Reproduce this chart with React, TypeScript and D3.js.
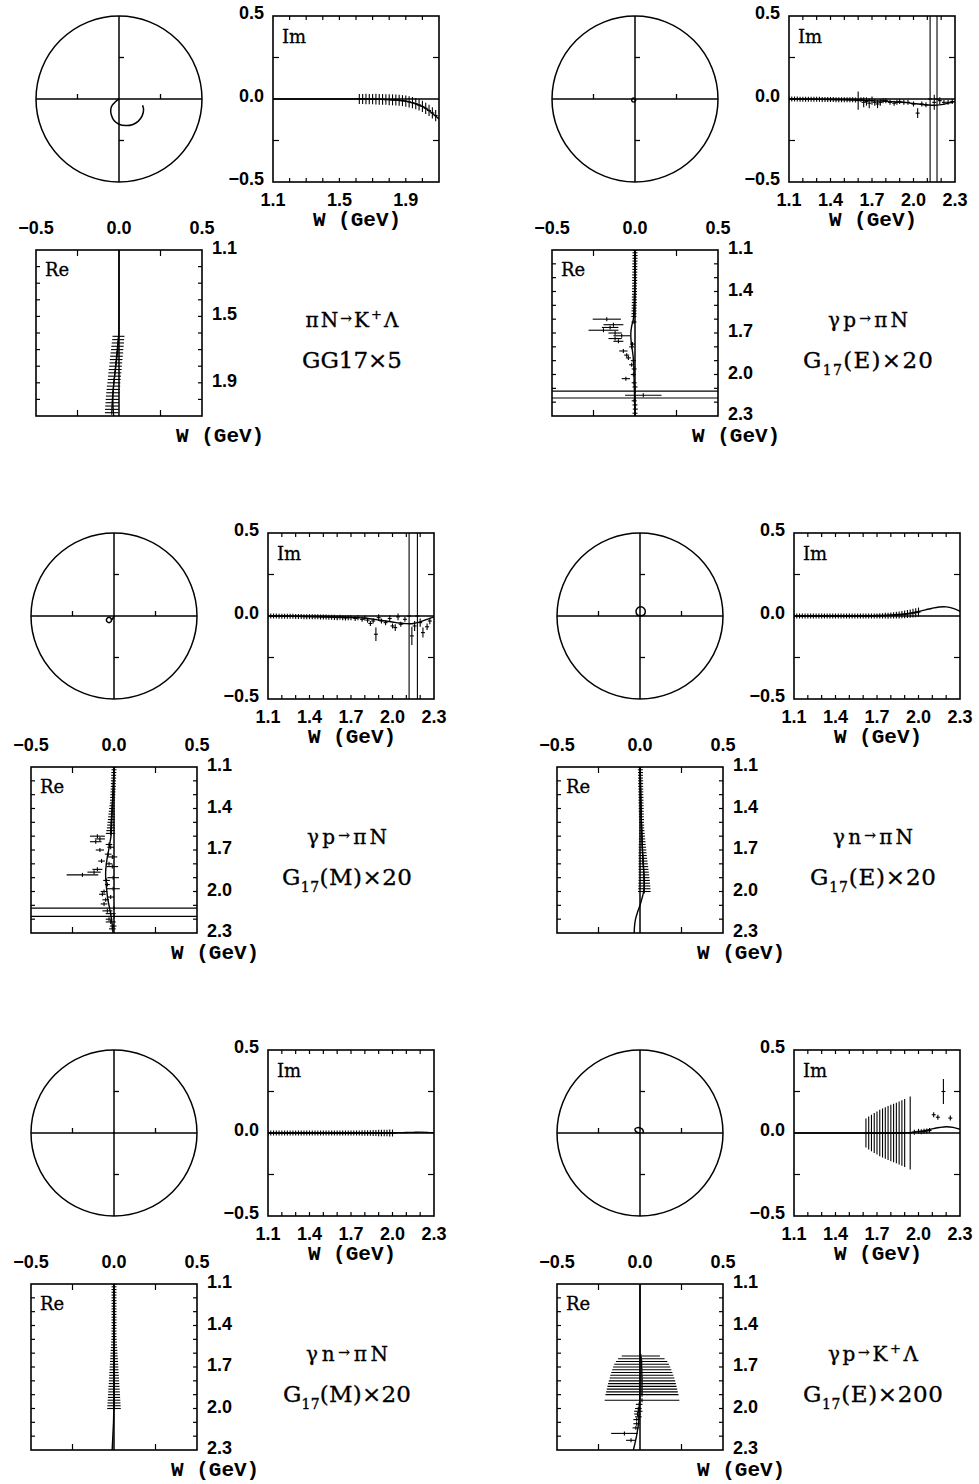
import React from "react";
import * as d3 from "d3";

// ---------- layout ----------
const S = 166;
const IM_DX = 237;
const RE_DY = 234;
const TITLE_DX = 316;
const panelLeft = [36, 552, 31, 557, 31, 557];
const panelTop = [16, 16, 533, 533, 1050, 1050];

const NUM_FONT = "'Liberation Sans', Arial, Helvetica, sans-serif";
const MONO_FONT = "'Liberation Mono', 'DejaVu Sans Mono', monospace";
const SERIF_FONT = "'DejaVu Serif', 'Liberation Serif', serif";

// ---------- ticks ----------
const ampTicks = [-0.5, 0.0, 0.5];
const ampMinorTicks = [-0.25, 0.25];
const wDomainShort = [1.1, 2.1];
const wDomainLong = [1.1, 2.3];
const wLabelsShort = [1.1, 1.5, 1.9];
const wLabelsLong = [1.1, 1.4, 1.7, 2.0, 2.3];
const wMinorShort = [1.2, 1.3, 1.4, 1.5, 1.6, 1.7, 1.8, 1.9, 2.0];
const wMinorLong = [1.2, 1.3, 1.4, 1.5, 1.6, 1.7, 1.8, 1.9, 2.0, 2.1, 2.2];

// ---------- curve energy grids ----------
const p1CurveW = [1.1, 1.2, 1.3, 1.4, 1.5, 1.6, 1.65, 1.7, 1.75, 1.8, 1.85, 1.9, 1.95, 2.0, 2.05, 2.1];
const curveW = [1.1, 1.2, 1.3, 1.4, 1.5, 1.6, 1.65, 1.7, 1.75, 1.8, 1.85, 1.9, 1.95, 2.0, 2.05, 2.1, 2.15, 2.2, 2.25, 2.3];

// ---------- Panel 1: piN -> K+ Lambda, GG17 x5 ----------
const p1CurveRe = [0, 0, 0, 0, 0, -0.001, -0.004, -0.008, -0.013, -0.019, -0.025, -0.031, -0.035, -0.037, -0.036, -0.032];
const p1CurveIm = [0, 0, 0, 0, 0, 0, 0, -0.001, -0.002, -0.004, -0.007, -0.013, -0.026, -0.045, -0.078, -0.12];
const p1ArgRe = [0, -0.012, -0.03, -0.045, -0.05, -0.045, -0.03, 0, 0.04, 0.08, 0.115, 0.14, 0.148, 0.142];
const p1ArgIm = [0, -0.008, -0.025, -0.045, -0.07, -0.1, -0.13, -0.152, -0.16, -0.155, -0.135, -0.1, -0.065, -0.038];
const p1W = [1.62, 1.64, 1.66, 1.68, 1.70, 1.72, 1.74, 1.76, 1.78, 1.80, 1.82, 1.84, 1.86, 1.88, 1.90, 1.92, 1.94, 1.96, 1.98, 2.00, 2.02, 2.04, 2.06, 2.08];
const p1Re = [-0.003, -0.005, -0.007, -0.009, -0.011, -0.013, -0.015, -0.017, -0.019, -0.021, -0.023, -0.025, -0.027, -0.029, -0.031, -0.033, -0.035, -0.037, -0.039, -0.040, -0.041, -0.042, -0.043, -0.044];
const p1ReErr = [0.036, 0.036, 0.037, 0.037, 0.037, 0.038, 0.038, 0.038, 0.038, 0.038, 0.039, 0.039, 0.039, 0.039, 0.039, 0.040, 0.040, 0.040, 0.040, 0.040, 0.040, 0.041, 0.041, 0.041];
const p1Im = [0, 0, 0, -0.001, -0.001, -0.001, -0.002, -0.002, -0.003, -0.004, -0.005, -0.006, -0.008, -0.010, -0.013, -0.017, -0.022, -0.028, -0.036, -0.045, -0.056, -0.069, -0.084, -0.100];
const p1ImErr = [0.030, 0.030, 0.031, 0.031, 0.031, 0.032, 0.032, 0.032, 0.032, 0.033, 0.033, 0.033, 0.033, 0.033, 0.034, 0.034, 0.034, 0.034, 0.034, 0.034, 0.034, 0.034, 0.034, 0.034];

// ---------- Panel 2: gamma p -> pi N, G17(E) x20 ----------
const p2CurveRe = [0, 0, 0, -0.002, -0.004, -0.01, -0.02, -0.025, -0.024, -0.019, -0.013, -0.009, -0.007, -0.006, -0.005, -0.004, -0.003, -0.002, -0.001, 0];
const p2CurveIm = [0, -0.001, -0.002, -0.003, -0.004, -0.006, -0.008, -0.01, -0.012, -0.014, -0.016, -0.019, -0.022, -0.027, -0.032, -0.036, -0.038, -0.034, -0.025, -0.015];
const p2ArgRe = [0, -0.004, -0.008, -0.0165, -0.02, -0.0165, -0.008, 0.0005, 0.004, 0];
const p2ArgIm = [0, 0.003, 0.006, 0.0025, -0.006, -0.0145, -0.018, -0.0145, -0.006, 0];
const p2W = [1.10, 1.12, 1.14, 1.16, 1.18, 1.20, 1.22, 1.24, 1.26, 1.28, 1.30, 1.32, 1.34, 1.36, 1.38, 1.40, 1.42, 1.44, 1.46, 1.48, 1.50, 1.52, 1.54, 1.56, 1.58,
  1.60, 1.62, 1.64, 1.66, 1.68, 1.70, 1.72, 1.74, 1.76, 1.78, 1.80, 1.83, 1.86, 1.88, 1.90, 1.93, 1.96, 2.00, 2.03, 2.06, 2.09, 2.12, 2.15, 2.17, 2.19, 2.22, 2.25, 2.28];
const p2Re = [0, 0, 0, 0, 0, -0.001, -0.001, -0.001, -0.001, -0.002, -0.002, -0.002, -0.002, -0.003, -0.003, -0.003, -0.003, -0.004, -0.004, -0.004, -0.005, -0.005, -0.006, -0.006, -0.007,
  -0.17, -0.006, -0.13, -0.15, -0.19, -0.12, -0.08, -0.12, -0.1, -0.015, -0.02, -0.07, -0.05, -0.04, -0.01, -0.02, -0.005, -0.01, -0.055, -0.005, 0, 0, 0.05, 0, -0.005, 0, 0.002, 0];
const p2ReErr = [0.003, 0.003, 0.004, 0.004, 0.004, 0.005, 0.005, 0.006, 0.006, 0.007, 0.007, 0.008, 0.008, 0.009, 0.009, 0.01, 0.01, 0.011, 0.011, 0.012, 0.012, 0.013, 0.013, 0.014, 0.014,
  0.085, 0.015, 0.06, 0.05, 0.09, 0.04, 0.05, 0.04, 0.03, 0.01, 0.012, 0.025, 0.015, 0.012, 0.01, 0.012, 0.01, 0.01, 0.025, 0.01, 0.01, 9, 0.11, 9, 0.01, 0.01, 0.01, 0.01];
const p2Im = [0, 0, 0, 0, -0.001, -0.001, -0.001, -0.001, -0.002, -0.002, -0.002, -0.002, -0.003, -0.003, -0.003, -0.003, -0.003, -0.004, -0.004, -0.004, -0.004, -0.005, -0.005, -0.005, -0.006,
  -0.01, -0.005, -0.02, -0.015, -0.025, -0.01, -0.02, -0.03, -0.02, -0.01, -0.01, -0.02, -0.025, -0.02, -0.015, -0.02, -0.02, -0.03, -0.085, -0.03, -0.035, 0, -0.02, 0, -0.01, -0.02, -0.02, -0.015];
const p2ImErr = [0.003, 0.003, 0.003, 0.004, 0.004, 0.004, 0.005, 0.005, 0.005, 0.006, 0.006, 0.007, 0.007, 0.008, 0.008, 0.009, 0.009, 0.01, 0.01, 0.011, 0.011, 0.012, 0.012, 0.013, 0.013,
  0.055, 0.015, 0.03, 0.025, 0.03, 0.025, 0.02, 0.025, 0.02, 0.015, 0.01, 0.01, 0.015, 0.012, 0.01, 0.01, 0.012, 0.012, 0.03, 0.015, 0.015, 9, 0.045, 9, 0.02, 0.015, 0.015, 0.012];

// ---------- Panel 3: gamma p -> pi N, G17(M) x20 ----------
const p3CurveRe = [0, -0.003, -0.006, -0.01, -0.014, -0.018, -0.025, -0.032, -0.04, -0.046, -0.05, -0.05, -0.047, -0.043, -0.038, -0.03, -0.022, -0.015, -0.01, -0.006];
const p3CurveIm = [0, 0, -0.001, -0.002, -0.003, -0.005, -0.006, -0.008, -0.01, -0.013, -0.018, -0.024, -0.03, -0.036, -0.042, -0.046, -0.045, -0.035, -0.02, -0.005];
const p3ArgRe = [0, -0.014, -0.019, -0.03, -0.041, -0.046, -0.041, -0.03, -0.019, -0.014, -0.006, 0];
const p3ArgIm = [0, -0.024, -0.013, -0.008, -0.013, -0.024, -0.035, -0.04, -0.035, -0.024, -0.012, 0];
const p3W = [1.10, 1.12, 1.14, 1.16, 1.18, 1.20, 1.22, 1.24, 1.26, 1.28, 1.30, 1.32, 1.34, 1.36, 1.38, 1.40, 1.42, 1.44, 1.46, 1.48, 1.50, 1.52, 1.54, 1.56, 1.58,
  1.60, 1.62, 1.64, 1.66, 1.68, 1.70, 1.73, 1.75, 1.78, 1.80, 1.82, 1.84, 1.86, 1.88, 1.90, 1.92, 1.95, 1.98, 2.00, 2.02, 2.04, 2.06, 2.09, 2.12, 2.14, 2.16, 2.18, 2.20, 2.22, 2.25, 2.27];
const p3Re = [0, 0, -0.001, -0.002, -0.002, -0.003, -0.004, -0.004, -0.005, -0.006, -0.007, -0.008, -0.009, -0.01, -0.011, -0.012, -0.013, -0.014, -0.015, -0.016, -0.017, -0.018, -0.019, -0.02, -0.021,
  -0.1, -0.085, -0.11, -0.03, -0.02, -0.085, -0.035, -0.01, -0.075, -0.03, -0.01, -0.1, -0.12, -0.19, -0.005, -0.045, -0.04, -0.005, -0.06, -0.07, -0.02, -0.05, -0.06, 0, -0.04, -0.02, 0, -0.03, -0.02, -0.005, -0.01];
const p3ReErr = [0.004, 0.004, 0.005, 0.005, 0.006, 0.007, 0.008, 0.009, 0.01, 0.011, 0.012, 0.013, 0.014, 0.015, 0.016, 0.017, 0.018, 0.019, 0.02, 0.021, 0.022, 0.023, 0.024, 0.026, 0.028,
  0.045, 0.03, 0.035, 0.02, 0.02, 0.025, 0.02, 0.03, 0.02, 0.02, 0.035, 0.03, 0.04, 0.095, 0.035, 0.02, 0.015, 0.04, 0.02, 0.02, 0.02, 0.02, 0.02, 9, 0.03, 0.03, 9, 0.02, 0.03, 0.02, 0.02];
const p3Im = [0, 0, 0, 0, -0.001, -0.001, -0.001, -0.002, -0.002, -0.002, -0.003, -0.003, -0.003, -0.004, -0.004, -0.004, -0.005, -0.005, -0.005, -0.006, -0.006, -0.006, -0.007, -0.007, -0.008,
  -0.01, -0.008, -0.01, -0.012, -0.01, -0.01, -0.015, -0.01, -0.02, -0.012, -0.025, -0.045, -0.03, -0.11, -0.01, -0.03, -0.04, -0.015, -0.06, -0.07, -0.005, -0.05, -0.02, 0, -0.12, -0.06, 0, -0.04, -0.1, -0.065, -0.03];
const p3ImErr = [0.004, 0.004, 0.005, 0.005, 0.006, 0.006, 0.007, 0.007, 0.008, 0.008, 0.009, 0.009, 0.01, 0.01, 0.011, 0.011, 0.012, 0.012, 0.013, 0.013, 0.014, 0.014, 0.015, 0.015, 0.016,
  0.015, 0.012, 0.012, 0.01, 0.01, 0.012, 0.01, 0.01, 0.012, 0.01, 0.015, 0.015, 0.015, 0.04, 0.02, 0.015, 0.015, 0.02, 0.015, 0.02, 0.02, 0.015, 0.015, 9, 0.055, 0.03, 9, 0.025, 0.03, 0.02, 0.02];

// ---------- Panels 4 & 5: gamma n -> pi N ----------
const gridW = [1.10, 1.12, 1.14, 1.16, 1.18, 1.20, 1.22, 1.24, 1.26, 1.28, 1.30, 1.32, 1.34, 1.36, 1.38, 1.40, 1.42, 1.44, 1.46, 1.48, 1.50, 1.52, 1.54, 1.56, 1.58,
  1.60, 1.62, 1.64, 1.66, 1.68, 1.70, 1.72, 1.74, 1.76, 1.78, 1.80, 1.82, 1.84, 1.86, 1.88, 1.90, 1.92, 1.94, 1.96, 1.98, 2.00];

const p4CurveRe = [0, 0.001, 0.003, 0.005, 0.008, 0.011, 0.013, 0.015, 0.018, 0.02, 0.023, 0.025, 0.025, 0.022, 0.012, 0, -0.015, -0.027, -0.033, -0.035];
const p4CurveIm = [0, 0, 0, 0, 0, 0.001, 0.002, 0.003, 0.004, 0.006, 0.009, 0.013, 0.019, 0.027, 0.037, 0.047, 0.054, 0.055, 0.046, 0.028];
const p4ArgRe = [0, 0.024, 0.032, 0.024, 0.004, -0.016, -0.024, -0.016, 0.004];
const p4ArgIm = [0, 0.007, 0.027, 0.047, 0.055, 0.047, 0.027, 0.007, 0];
const p4Re = [0.002, 0.002, 0.003, 0.003, 0.003, 0.004, 0.004, 0.004, 0.005, 0.005,
  0.005, 0.006, 0.006, 0.006, 0.007, 0.007, 0.007, 0.008, 0.008, 0.009,
  0.009, 0.010, 0.010, 0.011, 0.011, 0.012, 0.012, 0.013, 0.013, 0.014,
  0.015, 0.015, 0.016, 0.017, 0.018, 0.019, 0.020, 0.021, 0.022, 0.023,
  0.024, 0.025, 0.025, 0.026, 0.026, 0.026];
const p4ReErr = [0.004, 0.004, 0.005, 0.005, 0.006, 0.006, 0.007, 0.007, 0.008, 0.008,
  0.009, 0.009, 0.010, 0.010, 0.011, 0.011, 0.012, 0.012, 0.013, 0.013,
  0.014, 0.015, 0.015, 0.016, 0.017, 0.018, 0.019, 0.020, 0.021, 0.022,
  0.023, 0.024, 0.025, 0.026, 0.027, 0.028, 0.029, 0.030, 0.031, 0.032,
  0.033, 0.034, 0.035, 0.036, 0.037, 0.038];
const p4Im = [0, 0, 0, 0, 0, 0, 0, 0, 0, 0,
  0, 0, 0, 0, 0, 0, 0, 0, 0, 0,
  0, 0, 0, 0, 0, 0, 0, 0, 0, 0,
  0, 0.001, 0.001, 0.002, 0.002, 0.003, 0.004, 0.005, 0.006, 0.008,
  0.010, 0.012, 0.014, 0.017, 0.020, 0.023];
const p4ImErr = [0.003, 0.003, 0.003, 0.004, 0.004, 0.004, 0.005, 0.005, 0.005, 0.006,
  0.006, 0.006, 0.007, 0.007, 0.008, 0.008, 0.008, 0.009, 0.009, 0.010,
  0.010, 0.011, 0.011, 0.012, 0.012, 0.013, 0.013, 0.014, 0.014, 0.015,
  0.015, 0.016, 0.016, 0.017, 0.018, 0.018, 0.019, 0.020, 0.021, 0.022,
  0.023, 0.024, 0.025, 0.026, 0.027, 0.028];

const p5CurveRe = [0, 0, 0, 0, 0, 0, 0, 0, 0, 0, 0, 0, 0, -0.001, -0.002, -0.003, -0.005, -0.007, -0.009, -0.011];
const p5CurveIm = [0, 0, 0, 0, 0, 0, 0, 0, 0, 0, 0, 0, 0, 0.001, 0.002, 0.003, 0.004, 0.005, 0.004, 0.002];
const p5ArgRe = [0, 0.002, 0.001, -0.001, 0];
const p5ArgIm = [0, 0.001, 0.003, 0.002, 0];
const p5Re = [0, 0, 0, 0, 0, 0, 0, 0, 0, 0,
  0, 0, 0, 0, 0, 0, 0, 0, 0, 0,
  0, 0, 0, 0, 0, 0, 0, 0, 0, 0,
  0, 0, 0, 0, 0, 0, 0, 0, 0, 0,
  0, 0, 0, 0, 0, 0];
const p5ReErr = [0.004, 0.004, 0.005, 0.005, 0.006, 0.006, 0.007, 0.007, 0.008, 0.008,
  0.009, 0.010, 0.010, 0.011, 0.012, 0.012, 0.013, 0.014, 0.014, 0.015,
  0.016, 0.017, 0.018, 0.019, 0.020, 0.021, 0.022, 0.023, 0.024, 0.025,
  0.026, 0.027, 0.028, 0.029, 0.030, 0.031, 0.032, 0.033, 0.034, 0.035,
  0.036, 0.037, 0.038, 0.039, 0.040, 0.041];
const p5Im = [0, 0, 0, 0, 0, 0, 0, 0, 0, 0,
  0, 0, 0, 0, 0, 0, 0, 0, 0, 0,
  0, 0, 0, 0, 0, 0, 0, 0, 0, 0,
  0, 0, 0, 0, 0, 0, 0, 0, 0, 0,
  0, 0, 0, 0, 0, 0];
const p5ImErr = [0.003, 0.003, 0.003, 0.003, 0.004, 0.004, 0.004, 0.004, 0.005, 0.005,
  0.005, 0.006, 0.006, 0.006, 0.007, 0.007, 0.007, 0.008, 0.008, 0.008,
  0.009, 0.009, 0.010, 0.010, 0.011, 0.011, 0.012, 0.012, 0.013, 0.013,
  0.014, 0.014, 0.015, 0.015, 0.016, 0.016, 0.017, 0.017, 0.018, 0.018,
  0.019, 0.019, 0.020, 0.020, 0.021, 0.021];

// ---------- Panel 6: gamma p -> K+ Lambda, G17(E) x200 ----------
const p6CurveRe = [0, 0, 0, 0, 0, 0, 0, 0, 0, 0, 0, -0.001, -0.002, -0.003, -0.005, -0.008, -0.014, -0.021, -0.03, -0.04];
const p6CurveIm = [0, 0, 0, 0, 0, 0, 0, 0, 0, 0.001, 0.001, 0.002, 0.004, 0.008, 0.015, 0.025, 0.033, 0.038, 0.034, 0.022];
const p6ArgRe = [0, -0.015, -0.027, -0.03, -0.02, -0.005, 0.01, 0.018, 0.02, 0.016];
const p6ArgIm = [0, 0.003, 0.012, 0.024, 0.031, 0.032, 0.026, 0.016, 0.006, -0.002];
const p6W = [1.62, 1.64, 1.66, 1.68, 1.70, 1.72, 1.74, 1.76, 1.78, 1.80, 1.82, 1.84, 1.86, 1.88, 1.90, 1.94,
  1.97, 2.00, 2.02, 2.04, 2.06, 2.08, 2.11, 2.14, 2.18, 2.23];
const p6Re = [0.005, 0.008, 0.01, 0.01, 0.01, 0.011, 0.011, 0.011, 0.012, 0.012, 0.012, 0.012, 0.012, 0.012, 0.012, 0.012,
  -0.005, -0.01, -0.01, -0.015, -0.01, -0.02, -0.02, -0.025, -0.094, -0.054];
const p6ReErr = [0.115, 0.14, 0.155, 0.165, 0.172, 0.178, 0.184, 0.19, 0.195, 0.2, 0.204, 0.208, 0.212, 0.216, 0.22, 0.225,
  0.02, 0.02, 0.025, 0.02, 0.02, 0.02, 0.02, 0.02, 0.08, 0.03];
const p6Im = [0, 0, 0, 0, 0, 0, 0, 0, 0, 0, 0, 0, 0, 0, 0, 0,
  0.005, 0.01, 0.008, 0.01, 0.012, 0.015, 0.11, 0.095, 0.25, 0.09];
const p6ImErr = [0.088, 0.1, 0.11, 0.12, 0.13, 0.14, 0.148, 0.155, 0.162, 0.17, 0.176, 0.182, 0.19, 0.198, 0.205, 0.22,
  0.01, 0.012, 0.012, 0.012, 0.012, 0.01, 0.015, 0.015, 0.075, 0.015];

// ---------- titles ----------
type Seg = { t: string; k?: "sup" | "sub" | "arrow" };
const titleTop: Seg[][] = [
  [{ t: "πN" }, { t: "→", k: "arrow" }, { t: "K" }, { t: "+", k: "sup" }, { t: "Λ" }],
  [{ t: "γp" }, { t: "→", k: "arrow" }, { t: "πN" }],
  [{ t: "γp" }, { t: "→", k: "arrow" }, { t: "πN" }],
  [{ t: "γn" }, { t: "→", k: "arrow" }, { t: "πN" }],
  [{ t: "γn" }, { t: "→", k: "arrow" }, { t: "πN" }],
  [{ t: "γp" }, { t: "→", k: "arrow" }, { t: "K" }, { t: "+", k: "sup" }, { t: "Λ" }],
];
const titleBottom: Seg[][] = [
  [{ t: "GG17×5" }],
  [{ t: "G" }, { t: "17", k: "sub" }, { t: "(E)×20" }],
  [{ t: "G" }, { t: "17", k: "sub" }, { t: "(M)×20" }],
  [{ t: "G" }, { t: "17", k: "sub" }, { t: "(E)×20" }],
  [{ t: "G" }, { t: "17", k: "sub" }, { t: "(M)×20" }],
  [{ t: "G" }, { t: "17", k: "sub" }, { t: "(E)×200" }],
];
const titleTopLen = [93, 80, 80, 80, 82, 90];
const titleBottomLen = [100, 130, 130, 126, 128, 140];

type PanelSpec = {
  wDom: number[]; wLabels: number[]; wMinor: number[];
  w: number[]; re: number[]; reErr: number[]; im: number[]; imErr: number[];
  cW: number[]; cRe: number[]; cIm: number[];
  aRe: number[]; aIm: number[];
};

const panels: PanelSpec[] = [
  { wDom: wDomainShort, wLabels: wLabelsShort, wMinor: wMinorShort, w: p1W, re: p1Re, reErr: p1ReErr, im: p1Im, imErr: p1ImErr, cW: p1CurveW, cRe: p1CurveRe, cIm: p1CurveIm, aRe: p1ArgRe, aIm: p1ArgIm },
  { wDom: wDomainLong, wLabels: wLabelsLong, wMinor: wMinorLong, w: p2W, re: p2Re, reErr: p2ReErr, im: p2Im, imErr: p2ImErr, cW: curveW, cRe: p2CurveRe, cIm: p2CurveIm, aRe: p2ArgRe, aIm: p2ArgIm },
  { wDom: wDomainLong, wLabels: wLabelsLong, wMinor: wMinorLong, w: p3W, re: p3Re, reErr: p3ReErr, im: p3Im, imErr: p3ImErr, cW: curveW, cRe: p3CurveRe, cIm: p3CurveIm, aRe: p3ArgRe, aIm: p3ArgIm },
  { wDom: wDomainLong, wLabels: wLabelsLong, wMinor: wMinorLong, w: gridW, re: p4Re, reErr: p4ReErr, im: p4Im, imErr: p4ImErr, cW: curveW, cRe: p4CurveRe, cIm: p4CurveIm, aRe: p4ArgRe, aIm: p4ArgIm },
  { wDom: wDomainLong, wLabels: wLabelsLong, wMinor: wMinorLong, w: gridW, re: p5Re, reErr: p5ReErr, im: p5Im, imErr: p5ImErr, cW: curveW, cRe: p5CurveRe, cIm: p5CurveIm, aRe: p5ArgRe, aIm: p5ArgIm },
  { wDom: wDomainLong, wLabels: wLabelsLong, wMinor: wMinorLong, w: p6W, re: p6Re, reErr: p6ReErr, im: p6Im, imErr: p6ImErr, cW: curveW, cRe: p6CurveRe, cIm: p6CurveIm, aRe: p6ArgRe, aIm: p6ArgIm },
];

const fmtAmp = (t: number) => (t === 0 ? "0.0" : t < 0 ? "−" + Math.abs(t).toFixed(1) : t.toFixed(1));

function TitleLine({ x, y, segs, size, len }: { x: number; y: number; segs: Seg[]; size: number; len: number }) {
  let off = 0;
  return (
    <text x={x} y={y} textAnchor="middle" fontFamily={SERIF_FONT} fontSize={size} textLength={len} lengthAdjust="spacing" fill="#000" stroke="#000" strokeWidth={0.35}>
      {segs.map((s, i) => {
        const target = s.k === "sup" ? -8 : s.k === "sub" ? 7 : s.k === "arrow" ? -4 : 0;
        const dy = target - off;
        off = target;
        const fs = s.k === "sup" ? 13 : s.k === "sub" ? 14 : s.k === "arrow" ? 14 : undefined;
        return (
          <tspan key={i} dy={dy} fontSize={fs}>
            {s.t}
          </tspan>
        );
      })}
    </text>
  );
}

function Panel({ p, id }: { p: PanelSpec; id: number }) {
  const left = panelLeft[id];
  const top = panelTop[id];
  const imL = left + IM_DX, imT = top;
  const reL = left, reT = top + RE_DY;

  const ax = d3.scaleLinear().domain([-0.5, 0.5]).range([left, left + S]);
  const ay = d3.scaleLinear().domain([-0.5, 0.5]).range([top + S, top]);
  const imX = d3.scaleLinear().domain(p.wDom).range([imL, imL + S]);
  const imY = d3.scaleLinear().domain([-0.5, 0.5]).range([imT + S, imT]);
  const reX = d3.scaleLinear().domain([-0.5, 0.5]).range([reL, reL + S]);
  const reY = d3.scaleLinear().domain(p.wDom).range([reT, reT + S]);

  const cIdx = d3.range(p.cW.length);
  const imCurve = d3.line<number>().x((i) => imX(p.cW[i])).y((i) => imY(p.cIm[i])).curve(d3.curveCatmullRom)(cIdx) || "";
  const reCurve = d3.line<number>().x((i) => reX(p.cRe[i])).y((i) => reY(p.cW[i])).curve(d3.curveCatmullRom)(cIdx) || "";
  const aIdx = d3.range(p.aRe.length);
  const argCurve = d3.line<number>().x((i) => ax(p.aRe[i])).y((i) => ay(p.aIm[i])).curve(d3.curveCatmullRom)(aIdx) || "";

  const n = Math.min(p.w.length, p.re.length, p.reErr.length, p.im.length, p.imErr.length);
  const pts = d3.range(n);
  const k = "#000";
  const tick = 2;
  const NUM = 18;

  return (
    <g>
      {/* Argand diagram */}
      <circle cx={ax(0)} cy={ay(0)} r={ax(0.5) - ax(0)} fill="none" stroke={k} strokeWidth={1.5} />
      <line x1={ax(-0.5)} x2={ax(0.5)} y1={ay(0)} y2={ay(0)} stroke={k} strokeWidth={1.5} />
      <line x1={ax(0)} x2={ax(0)} y1={ay(-0.5)} y2={ay(0.5)} stroke={k} strokeWidth={1.5} />
      {ampMinorTicks.map((t) => (
        <g key={"ct" + t}>
          <line x1={ax(t)} x2={ax(t)} y1={ay(0)} y2={ay(0) - 5} stroke={k} strokeWidth={1.3} />
          <line x1={ax(0)} x2={ax(0) + 5} y1={ay(t)} y2={ay(t)} stroke={k} strokeWidth={1.3} />
        </g>
      ))}
      <path d={argCurve} fill="none" stroke={k} strokeWidth={1.5} />

      {/* Im vs W */}
      <clipPath id={"clipIm" + id}>
        <rect x={imL} y={imT} width={S} height={S} />
      </clipPath>
      <rect x={imL} y={imT} width={S} height={S} fill="none" stroke={k} strokeWidth={1.6} />
      {p.wMinor.map((w) => (
        <g key={"imw" + w}>
          <line x1={imX(w)} x2={imX(w)} y1={imT} y2={imT + 4} stroke={k} strokeWidth={1.2} />
          <line x1={imX(w)} x2={imX(w)} y1={imT + S} y2={imT + S - 4} stroke={k} strokeWidth={1.2} />
        </g>
      ))}
      {ampMinorTicks.map((t) => (
        <g key={"ima" + t}>
          <line x1={imL} x2={imL + 6} y1={imY(t)} y2={imY(t)} stroke={k} strokeWidth={1.2} />
          <line x1={imL + S} x2={imL + S - 6} y1={imY(t)} y2={imY(t)} stroke={k} strokeWidth={1.2} />
        </g>
      ))}
      <g clipPath={`url(#clipIm${id})`}>
        <line x1={imL} x2={imL + S} y1={imY(0)} y2={imY(0)} stroke={k} strokeWidth={1.5} />
        <path d={imCurve} fill="none" stroke={k} strokeWidth={1.4} />
        {pts.map((i) => {
          const x = imX(p.w[i]);
          const y = imY(p.im[i]);
          const y1 = Math.max(imY(p.im[i] + p.imErr[i]), imT - 5);
          const y2 = Math.min(imY(p.im[i] - p.imErr[i]), imT + S + 5);
          const half = Math.max((y2 - y1) / 2, 2.5);
          return (
            <g key={"ip" + i}>
              <line x1={x} x2={x} y1={Math.min(y1, y - half)} y2={Math.max(y2, y + half)} stroke={k} strokeWidth={1.1} />
              <line x1={x - tick} x2={x + tick} y1={y} y2={y} stroke={k} strokeWidth={1.1} />
            </g>
          );
        })}
      </g>
      <text x={imL + 9} y={imT + 27} fontFamily={SERIF_FONT} fontSize={18} fill={k} stroke={k} strokeWidth={0.3}>Im</text>
      {ampTicks.map((t) => (
        <text key={"iyl" + t} x={imL - 9} y={imY(t) - 3} textAnchor="end" dominantBaseline="central" fontFamily={NUM_FONT} fontWeight="bold" fontSize={NUM} fill={k}>
          {fmtAmp(t)}
        </text>
      ))}
      {p.wLabels.map((w) => (
        <text key={"ixl" + w} x={imX(w)} y={imT + S + 18} textAnchor="middle" dominantBaseline="central" fontFamily={NUM_FONT} fontWeight="bold" fontSize={NUM} fill={k}>
          {w.toFixed(1)}
        </text>
      ))}
      <text x={imL + S / 2 + 1} y={imT + S + 38} textAnchor="middle" dominantBaseline="central" fontFamily={MONO_FONT} fontWeight="bold" fontSize={21} fill={k}>
        W (GeV)
      </text>

      {/* Re vs W */}
      <clipPath id={"clipRe" + id}>
        <rect x={reL} y={reT} width={S} height={S} />
      </clipPath>
      <rect x={reL} y={reT} width={S} height={S} fill="none" stroke={k} strokeWidth={1.6} />
      {p.wMinor.map((w) => (
        <g key={"rew" + w}>
          <line x1={reL} x2={reL + 4} y1={reY(w)} y2={reY(w)} stroke={k} strokeWidth={1.2} />
          <line x1={reL + S} x2={reL + S - 4} y1={reY(w)} y2={reY(w)} stroke={k} strokeWidth={1.2} />
        </g>
      ))}
      {ampMinorTicks.map((t) => (
        <g key={"rea" + t}>
          <line x1={reX(t)} x2={reX(t)} y1={reT} y2={reT + 6} stroke={k} strokeWidth={1.2} />
          <line x1={reX(t)} x2={reX(t)} y1={reT + S} y2={reT + S - 6} stroke={k} strokeWidth={1.2} />
        </g>
      ))}
      <g clipPath={`url(#clipRe${id})`}>
        <line x1={reX(0)} x2={reX(0)} y1={reT} y2={reT + S} stroke={k} strokeWidth={1.5} />
        <path d={reCurve} fill="none" stroke={k} strokeWidth={1.4} />
        {pts.map((i) => {
          const y = reY(p.w[i]);
          const x = reX(p.re[i]);
          const x1 = Math.max(reX(p.re[i] - p.reErr[i]), reL - 5);
          const x2 = Math.min(reX(p.re[i] + p.reErr[i]), reL + S + 5);
          const half = Math.max((x2 - x1) / 2, 2.5);
          return (
            <g key={"rp" + i}>
              <line x1={Math.min(x1, x - half)} x2={Math.max(x2, x + half)} y1={y} y2={y} stroke={k} strokeWidth={1.1} />
              <line x1={x} x2={x} y1={y - tick} y2={y + tick} stroke={k} strokeWidth={1.1} />
            </g>
          );
        })}
      </g>
      <text x={reL + 9} y={reT + 26} fontFamily={SERIF_FONT} fontSize={18} fill={k} stroke={k} strokeWidth={0.3}>Re</text>
      {ampTicks.map((t) => (
        <text key={"rxl" + t} x={reX(t)} y={reT - 22} textAnchor="middle" dominantBaseline="central" fontFamily={NUM_FONT} fontWeight="bold" fontSize={NUM} fill={k}>
          {fmtAmp(t)}
        </text>
      ))}
      {p.wLabels.map((w) => (
        <text key={"ryl" + w} x={reL + S + 10} y={reY(w) - 2} textAnchor="start" dominantBaseline="central" fontFamily={NUM_FONT} fontWeight="bold" fontSize={NUM} fill={k}>
          {w.toFixed(1)}
        </text>
      ))}
      <text x={reL + S - 26} y={reT + S + 20} textAnchor="start" dominantBaseline="central" fontFamily={MONO_FONT} fontWeight="bold" fontSize={21} fill={k}>
        W (GeV)
      </text>

      {/* reaction title */}
      <TitleLine x={left + TITLE_DX} y={top + 311} segs={titleTop[id]} size={20} len={titleTopLen[id]} />
      <TitleLine x={left + TITLE_DX} y={top + 352} segs={titleBottom[id]} size={23} len={titleBottomLen[id]} />
    </g>
  );
}

export default function App() {
  return (
    <svg
      width={979}
      height={1484}
      viewBox="0 0 979 1484"
      style={{ position: "absolute", left: 0, top: 0, background: "#fff" }}
    >
      <rect x={0} y={0} width={979} height={1484} fill="#fff" />
      {panels.map((p, i) => (
        <Panel key={i} p={p} id={i} />
      ))}
    </svg>
  );
}
